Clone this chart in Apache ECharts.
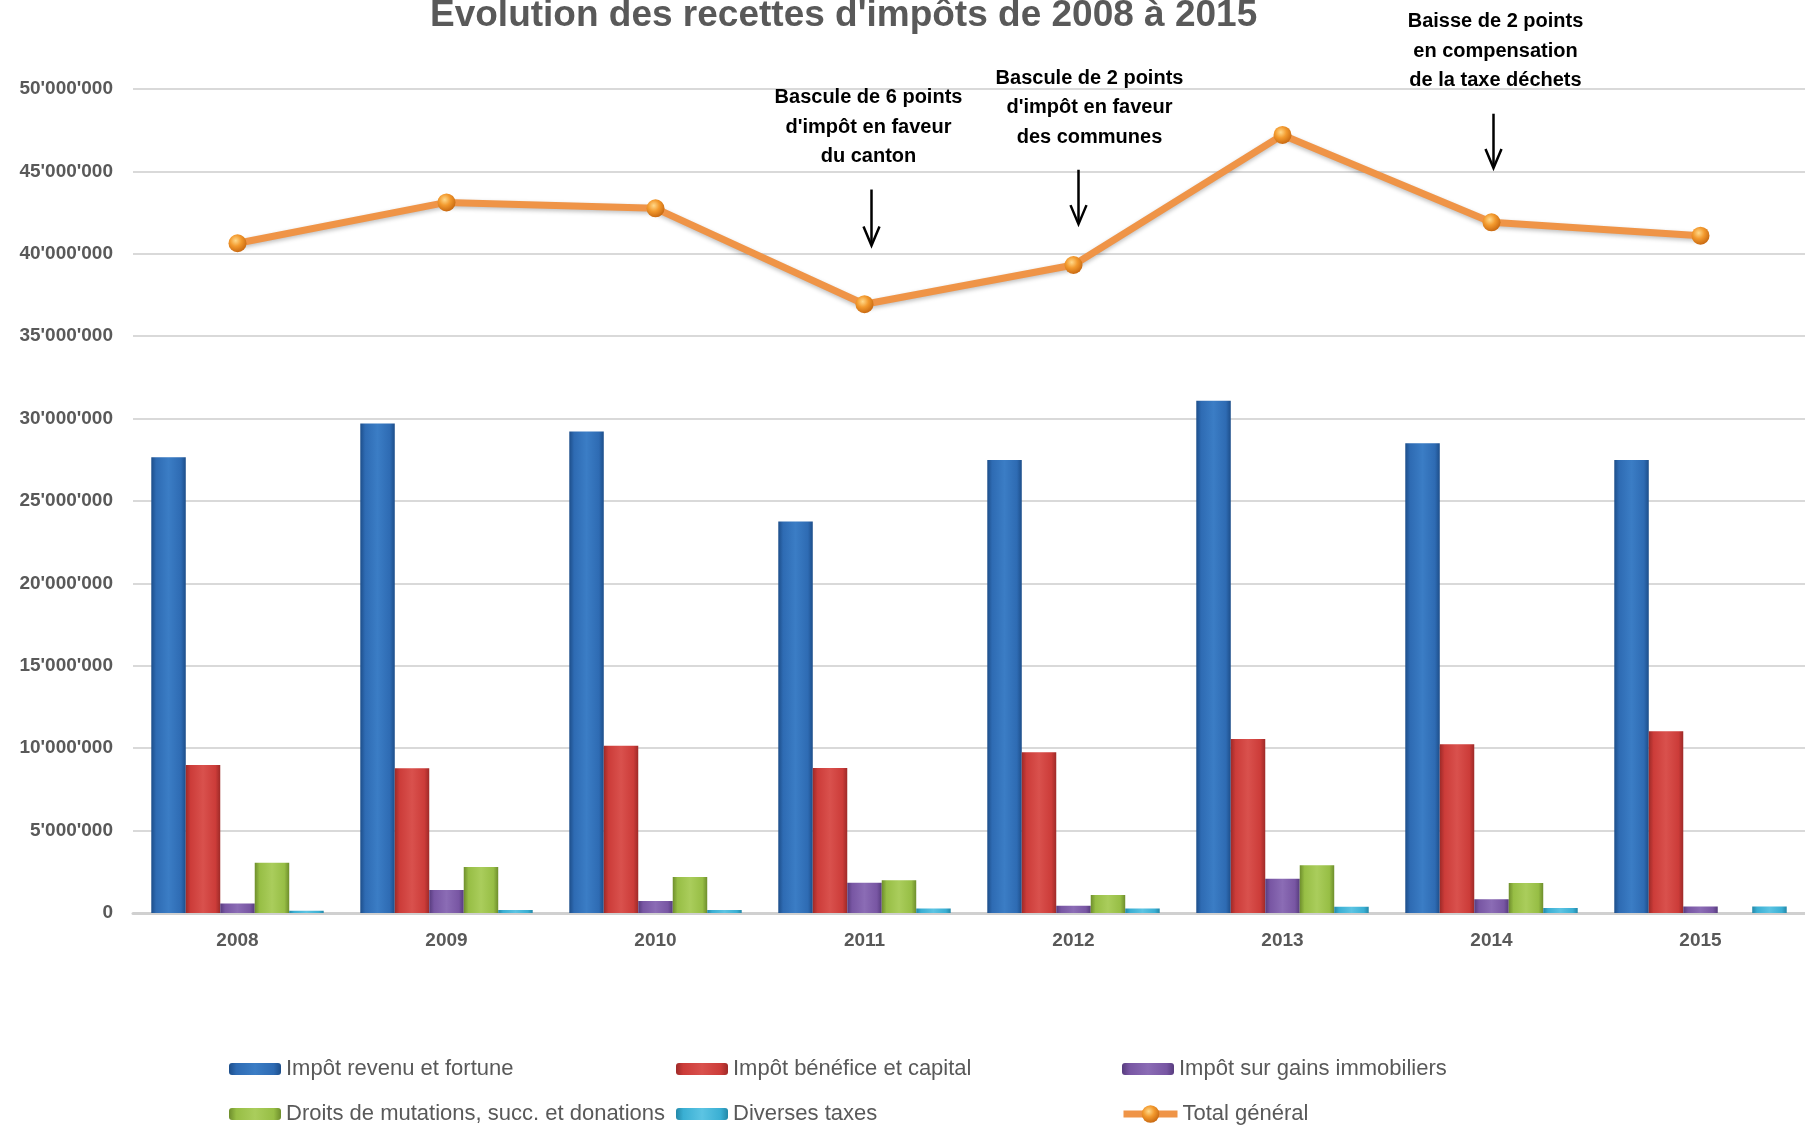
<!DOCTYPE html>
<html>
<head>
<meta charset="utf-8">
<script src="https://cdn.jsdelivr.net/npm/echarts@6/dist/echarts.min.js"></script>
<style>
html,body{margin:0;padding:0;background:#fff;}
#c{width:1805px;height:1126px;}
</style>
</head>
<body>
<div id="c"></div>
<script>
const categories = ['2008', '2009', '2010', '2011', '2012', '2013', '2014', '2015'];
const seriesNames = [
  'Impôt revenu et fortune',
  'Impôt bénéfice et capital',
  'Impôt sur gains immobiliers',
  'Droits de mutations, succ. et donations',
  'Diverses taxes',
  'Total général'
];
const impotRevenuFortune = [27650000, 29710000, 29210000, 23750000, 27490000, 31090000, 28500000, 27490000];
const impotBeneficeCapital = [8980000, 8780000, 10150000, 8800000, 9750000, 10560000, 10240000, 11030000];
const impotGainsImmobiliers = [570000, 1400000, 730000, 1840000, 440000, 2080000, 830000, 400000];
const droitsMutations = [3050000, 2790000, 2180000, 1980000, 1090000, 2890000, 1820000, 0];
const diversesTaxes = [140000, 180000, 180000, 280000, 280000, 380000, 300000, 400000];
const totalGeneral = [40640000, 43120000, 42760000, 36940000, 39320000, 47210000, 41910000, 41100000];
const yTicks = { min: 0, max: 50000000, interval: 5000000 };
const titleText = "Evolution des recettes d'impôts de 2008 à 2015";
const annotations = [
  { category: '2011', lines: ['Bascule de 6 points', "d'impôt en faveur", 'du canton'], arrowFrom: 43900000, arrowTo: 40500000 },
  { category: '2012', lines: ['Bascule de 2 points', "d'impôt en faveur", 'des communes'], arrowFrom: 45100000, arrowTo: 41800000 },
  { category: '2014', lines: ['Baisse de 2 points', 'en compensation', 'de la taxe déchets'], arrowFrom: 48500000, arrowTo: 45200000 }
];
const annotationOffsets = [ { arrowDx: 7, textDx: 4 }, { arrowDx: 5, textDx: 16 }, { arrowDx: 2, textDx: 4 } ];

const FONT = "'Liberation Sans', Arial, sans-serif";
const GREY = '#595959';

function bevel(dark, mid, light) {
  return new echarts.graphic.LinearGradient(0, 0, 1, 0, [
    { offset: 0, color: dark },
    { offset: 0.14, color: mid },
    { offset: 0.5, color: light },
    { offset: 0.86, color: mid },
    { offset: 1, color: dark }
  ]);
}
const barStyles = [
  bevel('#1D4E8A', '#2E6BB3', '#3B7DC5'),
  bevel('#9E2A28', '#CC3C39', '#D9514D'),
  bevel('#573C7E', '#7856A3', '#8B6CB5'),
  bevel('#6E8E2C', '#97BE45', '#AACD5C'),
  bevel('#2388A8', '#3AAFD3', '#5CC4E3')
];
const barData = [impotRevenuFortune, impotBeneficeCapital, impotGainsImmobiliers, droitsMutations, diversesTaxes];

function fmt(v) {
  return String(v).replace(/\B(?=(\d{3})+(?!\d))/g, "'");
}

const chart = echarts.init(document.getElementById('c'), null, { renderer: 'canvas' });

const markerColor = new echarts.graphic.RadialGradient(0.4, 0.35, 0.7, [
  { offset: 0, color: '#FFD98A' },
  { offset: 0.45, color: '#F39A2E' },
  { offset: 1, color: '#C4640E' }
]);

const series = barData.map((d, i) => ({
  name: seriesNames[i],
  type: 'bar',
  data: d,
  barGap: '0%',
  barCategoryGap: '17.5%',
  itemStyle: { color: barStyles[i] },
  emphasis: { disabled: true }
}));
series.push({
  name: seriesNames[5],
  type: 'line',
  data: totalGeneral,
  z: 5,
  symbol: 'circle',
  symbolSize: 18,
  lineStyle: { color: '#EF9447', width: 7, shadowBlur: 4, shadowColor: 'rgba(0,0,0,0.25)', shadowOffsetY: 2 },
  itemStyle: { color: markerColor, borderWidth: 0 },
  emphasis: { disabled: true }
});

const legendText = { color: GREY, fontSize: 22, lineHeight: 22, fontFamily: FONT };
const legendCommon = {
  orient: 'vertical',
  itemGap: 23,
  itemWidth: 52,
  itemHeight: 12,
  padding: 0,
  textStyle: legendText,
  selectedMode: false
};

const option = {
  animation: false,
  backgroundColor: '#ffffff',
  title: {
    text: titleText,
    left: 430,
    top: -3,
    padding: 0,
    textStyle: { color: GREY, fontSize: 37, fontWeight: 'bold', fontFamily: FONT }
  },
  grid: { left: 133, right: 0, top: 89, bottom: 213 },
  legend: [
    Object.assign({ left: 229, top: 1058, data: [seriesNames[0], seriesNames[3]] }, legendCommon),
    Object.assign({ left: 676, top: 1058, data: [seriesNames[1], seriesNames[4]] }, legendCommon),
    Object.assign({ left: 1122, top: 1058, data: [seriesNames[2]] }, legendCommon),
    {
      left: 1120, top: 1103, orient: 'vertical', padding: 0, selectedMode: false,
      itemWidth: 54, itemHeight: 22,
      data: [seriesNames[5]],
      lineStyle: { width: 7, color: '#EF9447' },
      itemStyle: { color: markerColor },
      textStyle: legendText
    }
  ],
  xAxis: {
    type: 'category',
    data: categories,
    axisLine: { lineStyle: { color: '#D0D0D0', width: 3 } },
    axisTick: { show: false },
    axisLabel: { color: GREY, fontSize: 19, fontWeight: 'bold', fontFamily: FONT, margin: 18 }
  },
  yAxis: {
    type: 'value',
    min: yTicks.min,
    max: yTicks.max,
    interval: yTicks.interval,
    axisLine: { show: false },
    axisTick: { show: false },
    splitLine: { lineStyle: { color: '#D9D9D9', width: 2 } },
    axisLabel: { color: GREY, fontSize: 19, fontWeight: 'bold', fontFamily: FONT, margin: 20, formatter: fmt }
  },
  series: series
};

chart.setOption(option);

const graphics = [];
annotations.forEach((a, i) => {
  const off = annotationOffsets[i];
  const pTop = chart.convertToPixel({ xAxisIndex: 0, yAxisIndex: 0 }, [a.category, a.arrowFrom]);
  const pTip = chart.convertToPixel({ xAxisIndex: 0, yAxisIndex: 0 }, [a.category, a.arrowTo]);
  const x = pTop[0] + off.arrowDx;
  graphics.push({
    type: 'line', z: 20,
    shape: { x1: x, y1: pTop[1], x2: x, y2: pTip[1] - 1 },
    style: { stroke: '#000', lineWidth: 2.5 }
  });
  graphics.push({
    type: 'polyline', z: 20,
    shape: { points: [[x - 8, pTip[1] - 19], [x, pTip[1]], [x + 8, pTip[1] - 19]] },
    style: { stroke: '#000', lineWidth: 2.5, fill: null }
  });
  graphics.push({
    type: 'text', z: 20,
    x: pTop[0] + off.textDx,
    y: pTop[1] - 18,
    style: {
      text: a.lines.join('\n'),
      fill: '#000',
      font: 'bold 20px ' + FONT,
      align: 'center', verticalAlign: 'bottom',
      textAlign: 'center', textVerticalAlign: 'bottom',
      lineHeight: 29.5
    }
  });
});
chart.setOption({ graphic: { elements: graphics } });
</script>
</body>
</html>
